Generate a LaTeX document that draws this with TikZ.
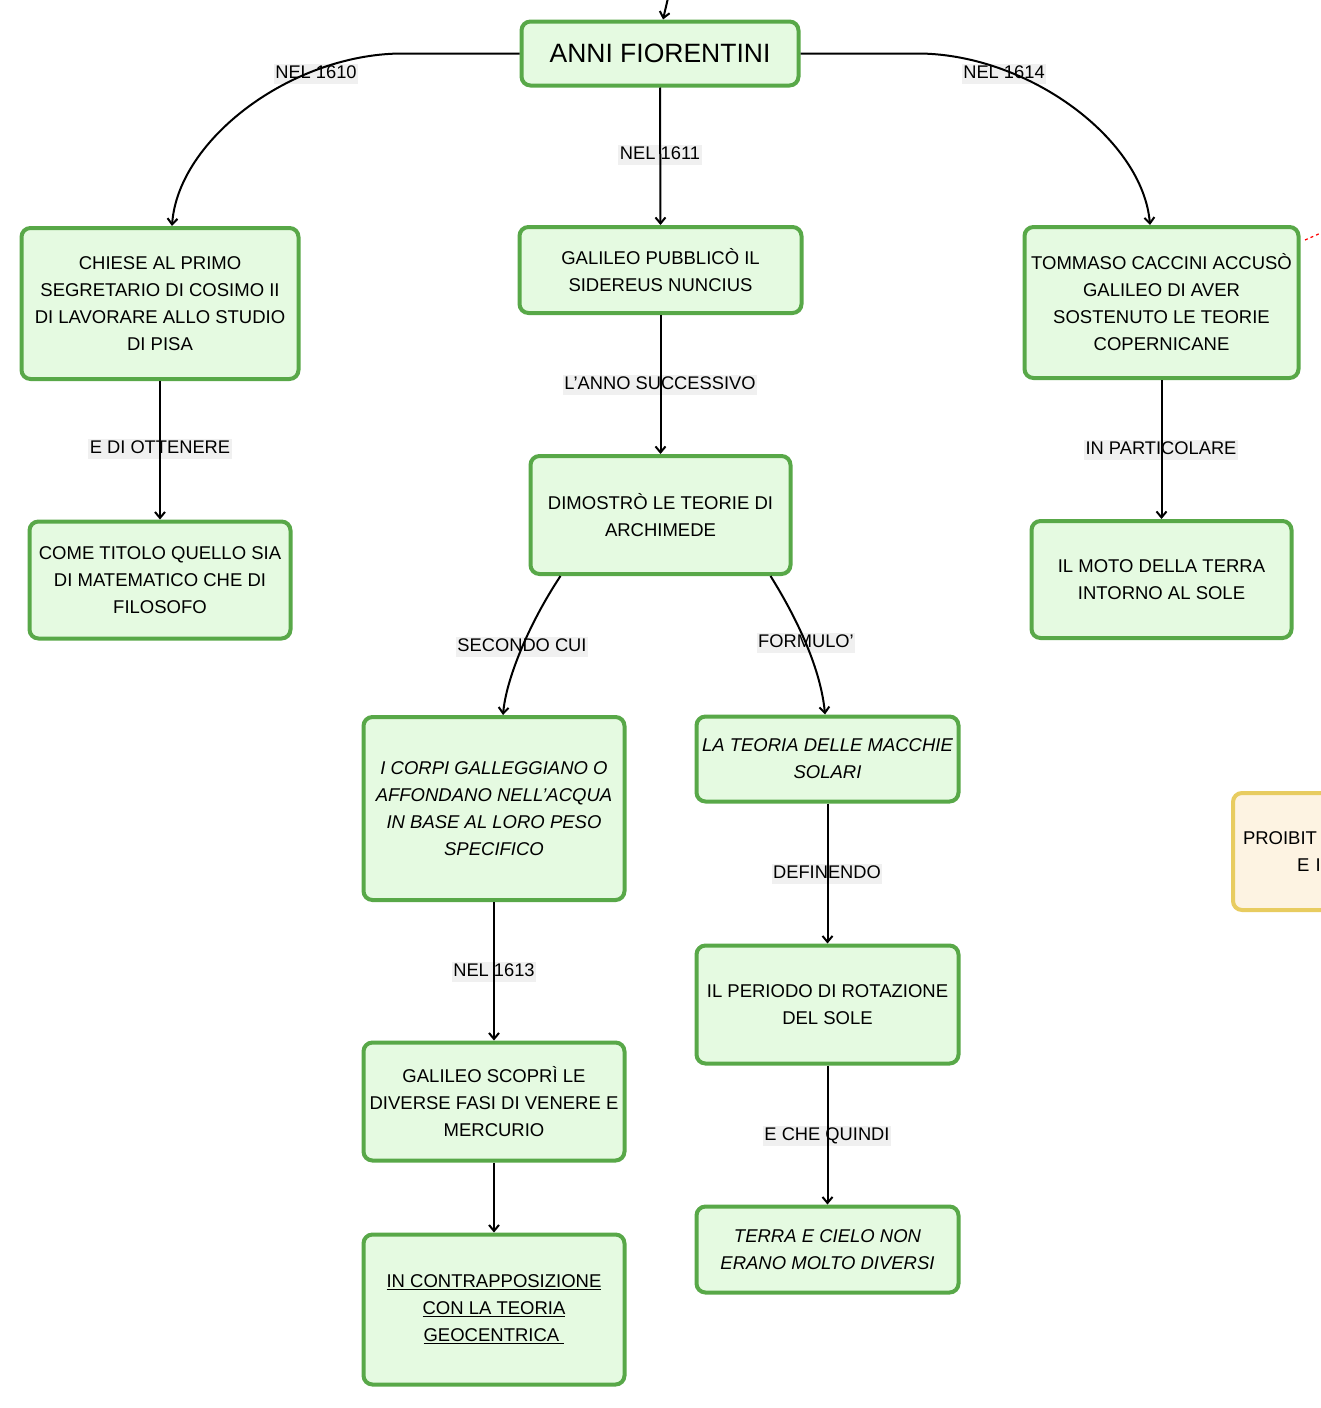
\documentclass[tikz,border=0pt]{standalone}
\usepackage{fontspec}
\setmainfont{Liberation Sans}
\usetikzlibrary{arrows.meta,positioning}
\definecolor{boxline}{RGB}{88,168,72}
\definecolor{boxfill}{RGB}{229,250,225}
\definecolor{ylwline}{RGB}{232,204,96}
\definecolor{ylwfill}{RGB}{253,243,226}
\definecolor{lblfill}{RGB}{240,240,240}
\tikzset{
  cbox/.style={draw=boxline, fill=boxfill, line width=4pt, rounded corners=9pt,
    align=center, inner sep=0pt, font=\fontsize{18.5}{27}\selectfont},
  ybox/.style={draw=ylwline, fill=ylwfill, line width=4pt, rounded corners=9pt,
    align=left, inner sep=0pt, font=\fontsize{18.5}{27}\selectfont},
  lbl/.style={fill=lblfill, inner xsep=1.5pt, inner ysep=1.5pt, text height=13pt, text depth=4pt,
    font=\fontsize{18.3}{22}\selectfont},
  conn/.style={draw=black, line width=2pt, -{Straight Barb[length=6pt,width=10pt]}},
}
\begin{document}
\begin{tikzpicture}[x=1pt,y=-1pt]
\useasboundingbox (0,0) rectangle (1321,1408);
\clip (0,0) rectangle (1321,1408);
\fill[white] (0,0) rectangle (1321,1408);

% boxes
\node[cbox, minimum width=277pt, minimum height=64pt, font=\fontsize{26.5}{30}\selectfont] (anni) at (660,53.5) {ANNI FIORENTINI};
\node[cbox, minimum width=277pt, minimum height=151pt] (chiese) at (160,303.5) {CHIESE AL PRIMO\\SEGRETARIO DI COSIMO II\\DI LAVORARE ALLO STUDIO\\DI PISA};
\node[cbox, minimum width=282pt, minimum height=86pt] (gal) at (660.5,270) {GALILEO PUBBLICÒ IL\\SIDEREUS NUNCIUS};
\node[cbox, minimum width=274pt, minimum height=151pt] (tom) at (1161.5,302.5) {TOMMASO CACCINI ACCUSÒ\\GALILEO DI AVER\\SOSTENUTO LE TEORIE\\COPERNICANE};
\node[cbox, minimum width=261pt, minimum height=117pt] (come) at (160,580) {COME TITOLO QUELLO SIA\\DI MATEMATICO CHE DI\\FILOSOFO};
\node[cbox, minimum width=260pt, minimum height=118pt] (dim) at (660.5,515) {DIMOSTRÒ LE TEORIE DI\\ARCHIMEDE};
\node[cbox, minimum width=260pt, minimum height=117pt] (moto) at (1161.5,579.5) {IL MOTO DELLA TERRA\\INTORNO AL SOLE};
\node[cbox, minimum width=261pt, minimum height=183pt] (corpi) at (494,808.5) {\itshape I CORPI GALLEGGIANO O\\\itshape AFFONDANO NELL'ACQUA\\\itshape IN BASE AL LORO PESO\\\itshape SPECIFICO};
\node[cbox, minimum width=262pt, minimum height=85pt] (teoria) at (827.5,759) {\itshape LA TEORIA DELLE MACCHIE\\\itshape SOLARI};
\node[cbox, minimum width=262pt, minimum height=118pt] (periodo) at (827.5,1004.5) {IL PERIODO DI ROTAZIONE\\DEL SOLE};
\node[cbox, minimum width=261pt, minimum height=118pt] (scopri) at (494,1101.5) {GALILEO SCOPRÌ LE\\DIVERSE FASI DI VENERE E\\MERCURIO};
\node[cbox, minimum width=262pt, minimum height=86pt] (terra) at (827.5,1249.5) {\itshape TERRA E CIELO NON\\\itshape ERANO MOLTO DIVERSI};
\node[cbox, minimum width=261pt, minimum height=150pt] (contra) at (494,1309.5) {\underline{IN CONTRAPPOSIZIONE}\\\underline{CON LA TEORIA}\\\underline{GEOCENTRICA\ }};
\node[ybox, minimum width=260pt, minimum height=117pt, text width=240pt] (proib) at (1363,851.5) {PROIBIT\\\hspace*{54pt}E I};

% labels
\node[lbl] (l1610) at (316,74) {NEL 1610};
\node[lbl] (l1614) at (1004,74) {NEL 1614};
\node[lbl] (l1611) at (660,155) {NEL 1611};
\node[lbl] (lanno) at (660,385) {L'ANNO SUCCESSIVO};
\node[lbl] (lotten) at (160,449) {E DI OTTENERE};
\node[lbl] (lpart) at (1161,450) {IN PARTICOLARE};
\node[lbl] (lsec) at (522,647) {SECONDO CUI};
\node[lbl] (lform) at (806,643) {FORMULO'};
\node[lbl] (l1613) at (494,972) {NEL 1613};
\node[lbl] (ldef) at (827,874) {DEFINENDO};
\node[lbl] (lche) at (827,1136) {E CHE QUINDI};

% connectors
\coordinate (topin) at (668,-2);
\draw[conn] (topin) -- ([xshift=3pt]anni.north);
\draw[conn] (anni.west) -- (400,53.5) .. controls (290,55) and (178,140) .. ([xshift=12pt]chiese.north);
\draw[conn] (anni.east) -- (920,53.5) .. controls (1030,55) and (1143,140) .. ([xshift=-11.5pt]tom.north);
\draw[conn] (anni.south) -- (gal.north);
\draw[conn] (gal.south) -- (dim.north);
\draw[conn] (chiese.south) -- (come.north);
\draw[conn] (tom.south) -- (moto.north);
\draw[conn] ([xshift=-100pt]dim.south) .. controls (528,625) and (506,680) .. ([xshift=9pt]corpi.north);
\draw[conn] ([xshift=110pt]dim.south) .. controls (798,620) and (821,670) .. ([xshift=-2.5pt]teoria.north);
\draw[conn] (corpi.south) -- (scopri.north);
\draw[conn] (scopri.south) -- (contra.north);
\draw[conn] (teoria.south) -- (periodo.north);
\draw[conn] (periodo.south) -- (terra.north);

\coordinate (redA) at (1305,240);
\coordinate (redB) at (1330,229);
\draw[red, dashed, line width=1.2pt] (redA) -- (redB);
\end{tikzpicture}
\end{document}
